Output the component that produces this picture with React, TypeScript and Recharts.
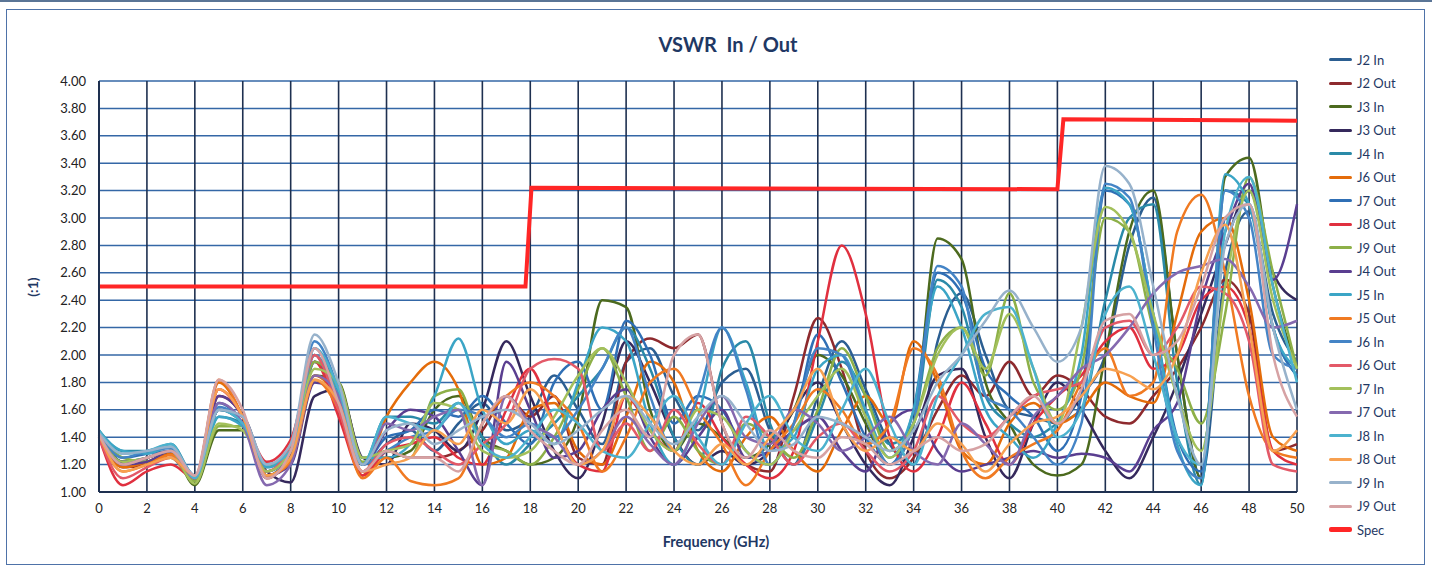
import { LineChart, Line, XAxis, YAxis, CartesianGrid } from "recharts";

// frequency points (GHz)
const freqs = Array.from({ length: 51 }, (_, i) => i);

const j2In = [1.44,1.22,1.25,1.3,1.1,1.6,1.5,1.12,1.28,1.95,1.65,1.2,1.35,1.45,1.3,1.5,1.65,1.45,1.55,1.85,1.6,1.35,1.95,2.05,1.7,1.45,1.8,1.9,1.45,1.2,1.7,2.1,1.75,1.35,1.2,2.1,2.45,2.0,1.6,1.55,1.5,1.7,2.0,2.8,3.15,2.0,1.1,2.6,3.05,2.3,1.95];
const j2Out = [1.42,1.18,1.2,1.28,1.08,1.7,1.55,1.1,1.3,2.0,1.6,1.15,1.3,1.25,1.25,1.3,1.45,1.7,1.55,1.7,1.25,1.2,1.95,2.12,2.05,2.15,1.5,1.2,1.15,1.7,2.27,1.9,1.3,1.1,1.25,1.6,1.85,1.7,1.95,1.7,1.85,1.75,1.55,1.5,1.7,1.9,2.2,2.55,2.3,1.3,1.35];
const j3In = [1.4,1.2,1.25,1.3,1.05,1.45,1.45,1.15,1.3,1.85,1.8,1.25,1.25,1.3,1.6,1.7,1.4,1.3,1.2,1.25,1.55,2.4,2.35,1.6,1.3,1.5,1.4,1.25,1.35,1.6,2.0,1.85,1.5,1.2,1.5,2.85,2.7,1.8,1.5,1.2,1.12,1.2,2.0,2.9,3.2,2.0,1.1,3.3,3.44,2.5,1.9];
const j3Out = [1.43,1.22,1.22,1.28,1.08,1.6,1.55,1.15,1.07,1.7,1.75,1.25,1.2,1.5,1.45,1.3,1.6,2.1,1.7,1.3,1.1,1.5,2.1,1.8,1.4,1.2,1.3,1.2,1.3,1.6,1.8,1.5,1.2,1.05,1.4,1.85,1.9,1.4,1.1,1.5,1.8,1.6,1.3,1.1,1.4,1.8,2.3,2.8,3.2,2.6,2.4];
const j4In = [1.45,1.3,1.3,1.35,1.12,1.55,1.5,1.2,1.25,1.95,1.7,1.2,1.55,1.55,1.5,1.65,1.4,1.2,1.35,1.5,1.7,1.9,2.2,1.9,1.4,1.2,1.9,2.1,1.5,1.2,1.55,1.95,1.7,1.35,1.5,2.55,2.35,1.7,1.5,1.4,1.5,1.6,2.4,3.0,3.1,1.8,1.05,3.2,3.1,2.2,1.85];
const j6OutA = [1.4,1.18,1.22,1.28,1.1,1.8,1.55,1.12,1.25,1.85,1.65,1.12,1.55,1.8,1.95,1.75,1.2,1.25,1.6,1.65,1.3,1.2,1.55,1.95,1.8,1.3,1.15,1.4,1.55,1.3,1.15,1.45,1.7,1.5,2.1,1.8,1.3,1.2,1.5,1.65,1.5,1.6,1.8,1.7,1.65,2.3,2.9,3.0,2.4,1.4,1.3];
const j7OutA = [1.42,1.25,1.28,1.3,1.1,1.65,1.5,1.15,1.3,2.05,1.7,1.2,1.4,1.45,1.6,1.55,1.7,1.5,1.35,1.8,1.95,1.6,2.25,2.0,1.5,1.7,1.6,1.3,1.2,1.5,2.15,1.8,1.4,1.2,1.6,2.6,2.45,1.9,1.7,1.55,1.3,1.7,3.2,3.1,2.3,1.4,1.15,3.0,3.1,2.2,1.85];
const j8OutA = [1.4,1.05,1.15,1.2,1.1,1.75,1.55,1.22,1.38,1.95,1.55,1.12,1.3,1.35,1.4,1.25,1.2,1.6,1.9,1.5,1.2,1.15,1.7,1.45,1.3,1.65,1.4,1.2,1.1,1.3,2.1,2.8,2.3,1.4,1.15,1.4,1.8,1.5,1.2,1.5,1.7,1.85,2.1,2.2,1.9,2.0,2.4,2.5,2.2,1.3,1.2];
const j9OutA = [1.42,1.25,1.22,1.25,1.08,1.48,1.48,1.18,1.35,1.95,1.75,1.22,1.3,1.25,1.7,1.75,1.35,1.3,1.2,1.4,1.75,2.05,1.7,1.3,1.55,1.3,1.2,1.5,1.4,1.25,1.6,2.05,1.7,1.3,1.5,2.05,2.2,1.85,2.45,1.8,1.6,1.9,3.0,2.9,2.2,1.9,1.5,2.3,3.3,2.6,1.9];
const j4Out = [1.43,1.2,1.22,1.3,1.1,1.7,1.55,1.12,1.2,1.8,1.7,1.2,1.45,1.6,1.55,1.3,1.05,1.95,1.6,1.25,1.3,1.6,1.75,1.4,1.2,1.4,1.6,1.25,1.3,1.45,1.55,1.3,1.15,1.5,1.6,1.3,1.15,1.2,1.25,1.3,1.25,1.28,1.25,1.15,1.45,1.65,2.4,2.9,3.25,2.55,3.1];
const j5In = [1.44,1.3,1.28,1.33,1.12,1.55,1.48,1.18,1.3,2.0,1.7,1.25,1.25,1.35,1.7,2.12,1.6,1.35,1.45,1.35,1.8,2.2,2.1,1.5,1.2,1.55,2.2,1.8,1.3,1.4,1.9,2.0,1.6,1.25,1.6,2.5,2.2,1.6,1.4,1.25,1.5,2.0,3.22,3.1,2.3,1.35,1.05,3.32,3.1,2.2,1.9];
const j5Out = [1.4,1.15,1.2,1.27,1.1,1.82,1.55,1.12,1.22,1.82,1.6,1.1,1.25,1.08,1.05,1.1,1.5,1.7,1.8,1.7,1.5,1.15,1.4,1.8,1.9,1.6,1.35,1.05,1.3,1.5,1.75,1.6,1.35,1.5,2.05,1.85,1.3,1.1,1.25,1.35,1.45,1.8,2.05,1.7,1.8,2.9,3.17,2.6,1.7,1.3,1.25];
const j6In = [1.42,1.25,1.3,1.32,1.12,1.62,1.5,1.15,1.3,2.1,1.75,1.2,1.3,1.4,1.45,1.6,1.55,1.4,1.5,1.4,1.6,1.9,2.2,1.7,1.3,1.7,2.2,1.75,1.2,1.5,2.05,2.0,1.55,1.2,1.5,2.65,2.5,1.7,1.6,1.4,1.2,1.5,3.25,3.15,2.2,1.3,1.1,3.2,3.0,2.0,1.9];
const j6OutB = [1.4,1.1,1.18,1.25,1.1,1.75,1.55,1.15,1.35,2.0,1.6,1.15,1.35,1.4,1.3,1.2,1.35,1.5,1.9,1.97,1.9,1.3,1.5,1.3,1.6,1.35,1.2,1.55,1.4,1.2,1.4,1.5,1.3,1.15,1.3,1.7,1.5,1.4,1.55,1.7,1.75,1.8,2.2,2.25,2.0,2.2,2.5,2.45,2.1,1.2,1.15];
const j7In = [1.41,1.22,1.25,1.3,1.06,1.5,1.45,1.15,1.3,1.9,1.8,1.25,1.3,1.35,1.65,1.6,1.3,1.25,1.3,1.55,1.85,2.05,1.8,1.45,1.3,1.6,1.55,1.3,1.2,1.45,1.7,1.9,1.55,1.25,1.5,2.0,2.2,1.9,2.3,1.9,1.5,2.2,3.08,2.9,2.3,1.7,1.3,2.5,3.2,2.4,1.9];
const j7OutB = [1.42,1.2,1.25,1.3,1.1,1.65,1.5,1.05,1.2,1.85,1.7,1.2,1.5,1.45,1.55,1.6,1.05,1.7,1.5,1.4,1.2,1.3,1.55,1.35,1.2,1.5,1.7,1.4,1.35,1.6,1.5,1.3,1.4,1.55,1.3,1.2,1.5,1.35,1.2,1.55,1.7,1.9,2.0,2.2,2.45,2.6,2.65,2.7,2.5,2.2,2.25];
const j8In = [1.45,1.28,1.3,1.35,1.1,1.6,1.5,1.2,1.3,2.05,1.75,1.2,1.55,1.5,1.45,1.65,1.35,1.25,1.4,1.6,1.5,1.3,1.25,1.5,1.7,1.4,1.2,1.5,1.7,1.4,1.3,1.6,1.9,1.5,1.2,1.7,2.0,2.3,2.35,1.9,1.4,1.6,2.3,2.5,2.0,1.4,1.2,2.9,3.3,2.5,1.8];
const j8OutB = [1.42,1.15,1.2,1.25,1.12,1.75,1.55,1.12,1.25,1.82,1.65,1.15,1.2,1.25,1.45,1.35,1.6,1.5,1.75,1.5,1.2,1.3,1.7,1.55,1.3,1.2,1.35,1.2,1.4,1.6,1.9,1.5,1.3,1.4,1.3,1.5,1.35,1.15,1.35,1.5,1.55,1.7,1.9,1.85,1.75,2.0,2.6,2.95,2.2,1.3,1.45];
const j9In = [1.43,1.28,1.3,1.33,1.12,1.6,1.55,1.2,1.35,2.15,1.8,1.2,1.45,1.5,1.35,1.45,1.55,1.6,1.5,1.35,1.45,1.6,1.7,1.5,1.35,1.55,1.7,1.5,1.3,1.35,1.55,1.5,1.4,1.3,1.45,1.8,2.0,2.25,2.47,2.2,1.95,2.2,3.38,3.25,2.5,1.7,1.2,2.8,3.1,2.2,1.6];
const j9OutB = [1.42,1.2,1.25,1.3,1.12,1.82,1.6,1.1,1.3,2.05,1.65,1.15,1.3,1.25,1.25,1.15,1.5,1.7,1.45,1.3,1.2,1.45,1.6,1.4,2.0,2.15,1.5,1.25,1.45,1.3,1.25,1.4,1.35,1.2,1.3,1.4,1.3,1.35,1.55,1.7,1.5,1.75,2.25,2.3,2.0,2.1,2.5,3.0,3.1,2.0,1.55];

// spec limit (step)
const specFreqs = [0, 17.8, 18.05, 40, 40.25, 50];
const specValues = [2.5, 2.5, 3.22, 3.21, 3.72, 3.71];

const xTicks = [0, 2, 4, 6, 8, 10, 12, 14, 16, 18, 20, 22, 24, 26, 28, 30, 32, 34, 36, 38, 40, 42, 44, 46, 48, 50];
const yTicks = [1.0, 1.2, 1.4, 1.6, 1.8, 2.0, 2.2, 2.4, 2.6, 2.8, 3.0, 3.2, 3.4, 3.6, 3.8, 4.0];

const series = [
  { key: "j2In", name: "J2 In", color: "#2B5E91", values: j2In },
  { key: "j2Out", name: "J2 Out", color: "#8E2A2E", values: j2Out },
  { key: "j3In", name: "J3 In", color: "#4C6A1E", values: j3In },
  { key: "j3Out", name: "J3 Out", color: "#35295C", values: j3Out },
  { key: "j4In", name: "J4 In", color: "#2A8AA8", values: j4In },
  { key: "j6OutA", name: "J6 Out", color: "#E46C0A", values: j6OutA },
  { key: "j7OutA", name: "J7 Out", color: "#2F6FB5", values: j7OutA },
  { key: "j8OutA", name: "J8 Out", color: "#E0303F", values: j8OutA },
  { key: "j9OutA", name: "J9 Out", color: "#8DB048", values: j9OutA },
  { key: "j4Out", name: "J4 Out", color: "#5A3E90", values: j4Out },
  { key: "j5In", name: "J5 In", color: "#3BA5C6", values: j5In },
  { key: "j5Out", name: "J5 Out", color: "#F07A22", values: j5Out },
  { key: "j6In", name: "J6 In", color: "#4484C6", values: j6In },
  { key: "j6OutB", name: "J6 Out", color: "#E35968", values: j6OutB },
  { key: "j7In", name: "J7 In", color: "#A3C05B", values: j7In },
  { key: "j7OutB", name: "J7 Out", color: "#8569AF", values: j7OutB },
  { key: "j8In", name: "J8 In", color: "#4CB2CE", values: j8In },
  { key: "j8OutB", name: "J8 Out", color: "#F7A050", values: j8OutB },
  { key: "j9In", name: "J9 In", color: "#97B2CB", values: j9In },
  { key: "j9OutB", name: "J9 Out", color: "#D6A2A4", values: j9OutB },
];

const SPEC_COLOR = "#FF2626";
const NAVY = "#1F3864";

const data = freqs.map((f, i) => {
  const row: any = { f };
  series.forEach((s) => {
    row[s.key] = s.values[i];
  });
  return row;
});

const specData = specFreqs.map((f, i) => ({ f, spec: specValues[i] }));

const legendItems = [
  ...series.map((s) => ({ name: s.name, color: s.color, width: 3 })),
  { name: "Spec", color: SPEC_COLOR, width: 5 },
];

export default function App() {
  return (
    <div
      style={{
        position: "fixed",
        left: 0,
        top: 0,
        width: 1432,
        height: 571,
        background: "#fff",
        overflow: "hidden",
      }}
    >
      <div style={{ position: "absolute", left: 0, top: 0, width: 1432, height: 2, background: "#5a7596" }} />
      <div
        style={{
          position: "absolute",
          left: 6,
          top: 9,
          width: 1417,
          height: 554,
          border: "1.5px solid #4E72A8",
        }}
      />
      <div
        style={{
          position: "absolute",
          left: 528,
          width: 400,
          top: 32,
          textAlign: "center",
          fontFamily: "Lato, sans-serif",
          fontWeight: 700,
          fontSize: 20,
          color: NAVY,
          whiteSpace: "pre",
        }}
      >
        VSWR  In / Out
      </div>
      <div
        style={{
          position: "absolute",
          left: 8,
          top: 278,
          width: 50,
          textAlign: "center",
          transform: "rotate(-90deg)",
          transformOrigin: "25px 9px",
          fontFamily: "Lato, sans-serif",
          fontWeight: 700,
          fontSize: 14,
          color: NAVY,
        }}
      >
        (:1)
      </div>
      <div
        style={{
          position: "absolute",
          left: 516,
          width: 400,
          top: 533,
          textAlign: "center",
          fontFamily: "Lato, sans-serif",
          fontWeight: 700,
          fontSize: 14.5,
          color: NAVY,
        }}
      >
        Frequency (GHz)
      </div>
      <div
        style={{
          position: "absolute",
          left: 1329,
          top: 48,
          width: 100,
          fontFamily: "Lato, sans-serif",
          fontSize: 13,
        }}
      >
        {legendItems.map((item, i) => (
          <div key={i} style={{ display: "flex", alignItems: "center", height: 23.5 }}>
            <div style={{ width: 23, height: item.width, background: item.color, borderRadius: 2 }} />
            <span style={{ marginLeft: 5, color: NAVY }}>{item.name}</span>
          </div>
        ))}
      </div>
      <div style={{ position: "absolute", left: 0, top: 0 }}>
        <LineChart
          width={1432}
          height={571}
          data={data}
          margin={{ top: 81, right: 135, bottom: 49, left: 39 }}
        >
          <CartesianGrid horizontal={true} vertical={false} stroke="#3467A6" strokeWidth={1.5} />
          <CartesianGrid horizontal={false} vertical={true} stroke="#1E3050" strokeWidth={1.6} />
          <XAxis
            dataKey="f"
            type="number"
            domain={[0, 50]}
            ticks={xTicks}
            interval={0}
            tickLine={false}
            tickSize={0}
            tickMargin={12}
            height={30}
            axisLine={{ stroke: "#1E3050", strokeWidth: 2 }}
            tick={{ fill: "#222", fontSize: 13, fontFamily: "Lato, sans-serif" }}
          />
          <YAxis
            type="number"
            domain={[1, 4]}
            ticks={yTicks}
            interval={0}
            width={60}
            tickLine={false}
            tickSize={0}
            tickMargin={13}
            axisLine={{ stroke: "#1E3050", strokeWidth: 2 }}
            tickFormatter={(v: number) => v.toFixed(2)}
            tick={{ fill: "#222", fontSize: 13, fontFamily: "Lato, sans-serif" }}
          />
          {series.map((s) => (
            <Line
              key={s.key}
              dataKey={s.key}
              name={s.name}
              type="monotone"
              stroke={s.color}
              strokeWidth={2.5}
              dot={false}
              isAnimationActive={false}
            />
          ))}
          <Line
            data={specData}
            dataKey="spec"
            name="Spec"
            type="linear"
            stroke={SPEC_COLOR}
            strokeWidth={4}
            dot={false}
            isAnimationActive={false}
          />
        </LineChart>
      </div>
    </div>
  );
}
